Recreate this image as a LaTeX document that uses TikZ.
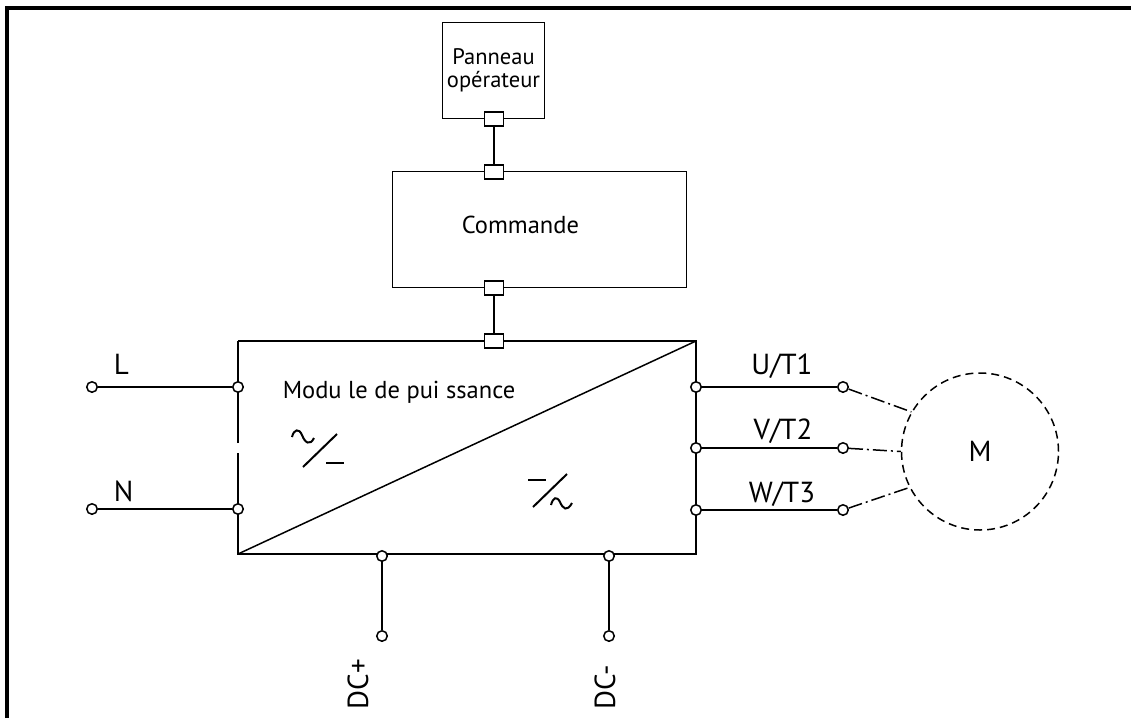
\documentclass[tikz,border=0pt]{standalone}
\usepackage{fontspec}
\setmainfont{PT Sans}
\begin{document}
\begin{tikzpicture}[x=1pt,y=-1pt, line width=1.5pt,
  box/.style={draw, fill=white, inner sep=0pt},
  plug/.style={draw, fill=white, minimum width=19pt, minimum height=14pt, inner sep=0pt},
  term/.style={circle, draw, fill=white, minimum size=10.5pt, inner sep=0pt},
  lbl/.style={font=\fontsize{29}{32}\selectfont, inner sep=0pt},
  txt/.style={font=\fontsize{24.5}{26}\selectfont, inner sep=0pt},
  sym/.style={line width=2pt},
  phase/.style={dash pattern=on 14pt off 4pt on 2pt off 4pt},
  motor/.style={circle, draw, dash pattern=on 8pt off 5pt, minimum size=157pt, inner sep=0pt, font=\fontsize{29}{32}\selectfont},
]
\useasboundingbox (0,0) rectangle (1131,718);
% frame
\draw[line width=3.5pt] (7,718) -- (7,8) -- (1131,8);

% boxes
\node[box, minimum width=102pt, minimum height=96pt, align=center,
      font=\fontsize{22.5}{22.5}\selectfont] (pan) at (493.5,70.3) {Panneau\\opérateur};
\node[box, minimum width=294pt, minimum height=115.6pt] (cmd) at (539.7,229.5) {};
\node[txt, anchor=base west] (cmdtxt) at (461,233) {Commande};

% power module
\coordinate (mtl) at (238,341);
\coordinate (mtr) at (696,341);
\coordinate (mbr) at (696,554);
\coordinate (mbl) at (238,554);
\draw (mtl) -- (mtr) -- (mbr) -- (mbl) -- (238,453);
\draw (238,443) -- (mtl);
\draw (mbl) -- (mtr);
\node[txt, anchor=base west] (modtxt) at (282,398) {Modu le de pui ssance};

% converter symbols
\draw[sym] (292,437) .. controls (294,429) and (299,428) .. (302,435) .. controls (305,443) and (310,446) .. (314,438);
\draw[sym] (303,467) -- (337,434);
\draw[sym] (326,463) -- (344,463);
\draw[sym] (528,480) -- (546,480);
\draw[sym] (533,507) -- (567,474);
\draw[sym] (551,505) .. controls (553,497) and (557,496) .. (560,502) .. controls (563,509) and (567,512) .. (572,503);

% plugs
\node[plug] (sq1) at (494,119) {};
\node[plug] (sq2) at (494,172) {};
\node[plug] (sq3) at (494,288) {};
\node[plug] (sq4) at (494,341) {};
\draw (sq1) -- (sq2);
\draw (sq3) -- (sq4);

% terminals
\node[term] (tL) at (92,387) {};
\node[term] (mL) at (238,387) {};
\node[term] (tN) at (92,509) {};
\node[term] (mN) at (238,509) {};
\node[term] (mU) at (696,387) {};
\node[term] (tU) at (843,387) {};
\node[term] (mV) at (696,448) {};
\node[term] (tV) at (843,448) {};
\node[term] (mW) at (696,510) {};
\node[term] (tW) at (843,510) {};
\node[term] (mDp) at (382,556) {};
\node[term] (tDp) at (382,636) {};
\node[term] (mDm) at (609,556) {};
\node[term] (tDm) at (609,636) {};

\draw (tL) -- (mL);
\draw (tN) -- (mN);
\draw (mU) -- (tU);
\draw (mV) -- (tV);
\draw (mW) -- (tW);
\draw (mDp) -- (tDp);
\draw (mDm) -- (tDm);

% motor
\node[motor] (mot) at (980,451.5) {M};
\draw[phase] (tU) -- (mot.150);
\draw[phase] (tV) -- (mot.180);
\draw[phase] (tW) -- (mot.207);

% labels
\node[lbl, anchor=base west] (Llbl) at (113,374) {L};
\node[lbl, anchor=base west] (Nlbl) at (113,501) {N};
\node[lbl, anchor=base] (Ulbl) at (782,374) {U/T1};
\node[lbl, anchor=base] (Vlbl) at (783,439) {V/T2};
\node[lbl, anchor=base] (Wlbl) at (782,502) {W/T3};
\node[lbl, rotate=90, anchor=base west] (DCp) at (368,710) {DC+};
\node[lbl, rotate=90, anchor=base west] (DCm) at (615,710) {DC-};
\end{tikzpicture}
\end{document}
